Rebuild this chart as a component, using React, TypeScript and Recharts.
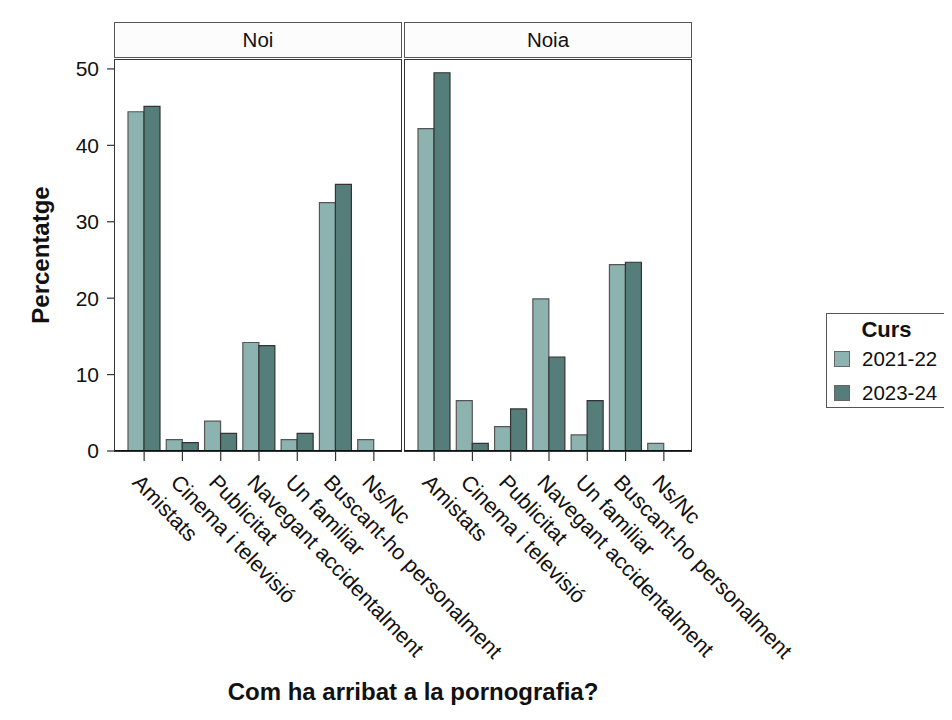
import React from 'react'
import { BarChart, Bar, XAxis, YAxis, Legend } from 'recharts'

const categories = [
  'Amistats',
  'Cinema i televisió',
  'Publicitat',
  'Navegant accidentalment',
  'Un familiar',
  'Buscant-ho personalment',
  'Ns/Nc',
]
const noi2122 = [44.4, 1.5, 3.9, 14.2, 1.5, 32.5, 1.5]
const noi2324 = [45.1, 1.1, 2.3, 13.8, 2.3, 34.9, null]
const noia2122 = [42.2, 6.6, 3.2, 19.9, 2.1, 24.4, 1.0]
const noia2324 = [49.5, 1.0, 5.5, 12.3, 6.6, 24.7, null]
const yTicks = [0, 10, 20, 30, 40, 50]
const cursos = ['2021-22', '2023-24']
const panels = ['Noi', 'Noia']

const FONT = '"Liberation Sans", Arial, Helvetica, sans-serif'
const LIGHT = '#8db3b0'
const DARK = '#557d7a'

const noiData = categories.map((c, i) => ({ cat: c, a: noi2122[i], b: noi2324[i] }))
const noiaData = categories.map((c, i) => ({ cat: c, a: noia2122[i], b: noia2324[i] }))

// plot area geometry (page px)
const TOP = 59
const BOTTOM = 451
const P1 = [115, 402]
const P2 = [405, 692]
const W = 952
const H = 720
const XH = 30

const XTick = (props: any) => {
  const { x, y, payload } = props
  return (
    <g transform={`translate(${x},${y + 8})`}>
      <text transform="rotate(46)" dy={18} textAnchor="start" fontSize={21.5} fill="#111" fontFamily={FONT}>
        {payload.value}
      </text>
    </g>
  )
}

const LegendBox = (props: any) => {
  const items = props.payload || []
  return (
    <div
      style={{
        width: 121,
        height: 95,
        boxSizing: 'border-box',
        border: '1.5px solid #555',
        background: '#fff',
        fontFamily: FONT,
        color: '#111',
      }}
    >
      <div style={{ textAlign: 'center', fontWeight: 'bold', fontSize: 22, lineHeight: '24px', marginTop: 4 }}>Curs</div>
      {items.map((it: any) => (
        <div key={it.value} style={{ display: 'flex', alignItems: 'center', height: 34, paddingLeft: 7 }}>
          <span
            style={{
              display: 'inline-block',
              width: 14,
              height: 14,
              background: it.color,
              border: '1px solid #666',
              marginRight: 12,
            }}
          />
          <span style={{ fontSize: 20.5 }}>{it.value}</span>
        </div>
      ))}
    </div>
  )
}

const Panel = ({ data, left, right, showY, legend }: any) => (
  <div style={{ position: 'absolute', left: 0, top: 0 }}>
    <BarChart
      width={W}
      height={H}
      data={data}
      barGap={0}
      barSize={16}
      margin={{ top: TOP, right: W - right, bottom: H - BOTTOM - XH, left: showY ? 0 : left }}
    >
      <XAxis
        dataKey="cat"
        height={XH}
        interval={0}
        padding={{ left: 10, right: 9 }}
        tickSize={10}
        tick={<XTick />}
        tickLine={{ stroke: '#333', strokeWidth: 1.2 }}
        axisLine={{ stroke: '#111', strokeWidth: 2 }}
      />
      <YAxis
        hide={!showY}
        width={showY ? left : 0}
        domain={[0, 51.3]}
        ticks={yTicks}
        allowDataOverflow
        tickSize={8}
        tickMargin={8}
        axisLine={false}
        tickLine={{ stroke: '#333', strokeWidth: 1.2 }}
        tick={{ fontSize: 21, fill: '#111', fontFamily: FONT }}
      />
      <Bar dataKey="a" name={cursos[0]} fill={LIGHT} stroke="#555" strokeWidth={1.2} isAnimationActive={false} />
      <Bar dataKey="b" name={cursos[1]} fill={DARK} stroke="#333" strokeWidth={1.2} isAnimationActive={false} />
      {legend && (
        <Legend
          layout="vertical"
          align="center"
          verticalAlign="middle"
          content={<LegendBox />}
          wrapperStyle={{ left: 826, top: 313, width: 121, height: 95 }}
        />
      )}
    </BarChart>
  </div>
)

export default function App() {
  const frames = [P1, P2]
  return (
    <div style={{ position: 'relative', width: W, height: H, margin: -8, background: '#fff', fontFamily: FONT, overflow: 'hidden' }}>
      <div style={{ position: 'absolute', left: 7, top: 0, width: 1, height: H, background: '#aaa' }} />
      <Panel data={noiData} left={P1[0]} right={P1[1]} showY />
      <Panel data={noiaData} left={P2[0]} right={P2[1]} legend />
      {frames.map((p, i) => (
        <React.Fragment key={i}>
          <div
            style={{
              position: 'absolute',
              left: p[0] - 1,
              top: 22,
              width: p[1] - p[0] + 1,
              height: 36,
              boxSizing: 'border-box',
              border: '1.5px solid #555',
              background: '#fcfcfc',
              textAlign: 'center',
              fontSize: 20.5,
              lineHeight: '33px',
              color: '#111',
            }}
          >
            {panels[i]}
          </div>
          <div
            style={{
              position: 'absolute',
              left: p[0] - 1,
              top: TOP,
              width: p[1] - p[0] + 1,
              height: BOTTOM - TOP + 1,
              boxSizing: 'border-box',
              border: '1.5px solid #333',
              pointerEvents: 'none',
            }}
          />
        </React.Fragment>
      ))}
      <div
        style={{
          position: 'absolute',
          left: 41,
          top: 255,
          transform: 'translate(-50%, -50%) rotate(-90deg)',
          transformOrigin: 'center',
          fontSize: 24,
          fontWeight: 'bold',
          color: '#111',
          whiteSpace: 'nowrap',
        }}
      >
        Percentatge
      </div>
      <div
        style={{
          position: 'absolute',
          left: 413,
          top: 692,
          transform: 'translate(-50%, -50%)',
          fontSize: 24,
          fontWeight: 'bold',
          color: '#111',
          whiteSpace: 'nowrap',
        }}
      >
        Com ha arribat a la pornografia?
      </div>
    </div>
  )
}
